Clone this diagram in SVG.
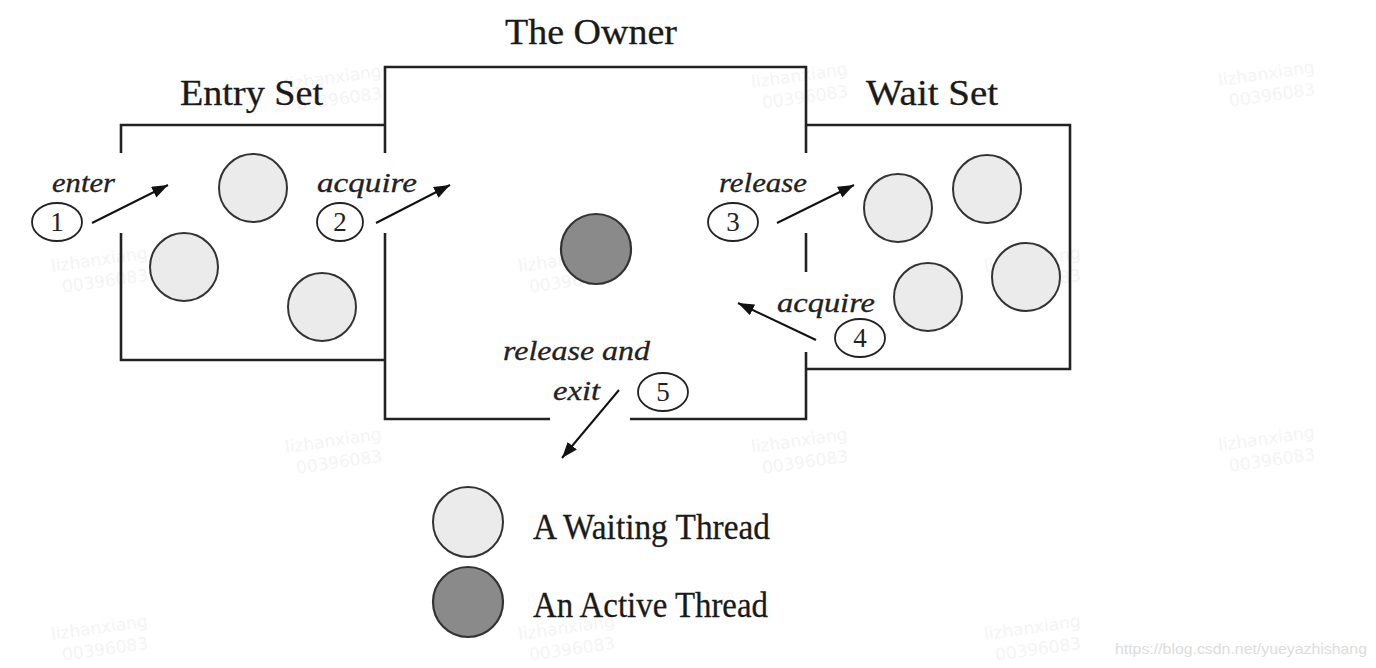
<svg xmlns="http://www.w3.org/2000/svg" width="1376" height="668" viewBox="0 0 1376 668">
<style>
.wall{fill:none;stroke:#222;stroke-width:2.6;stroke-linecap:butt}
.wait{fill:#ebebeb;stroke:#333;stroke-width:2}
.active{fill:#8a8a8a;stroke:#333;stroke-width:2.2}
.num{fill:#fff;stroke:#222;stroke-width:1.8}
.head{font-family:"Liberation Serif","Times New Roman",serif;font-size:35px;fill:#1a1a1a;stroke:#1a1a1a;stroke-width:0.3}
.lab{font-family:"Liberation Serif","Times New Roman",serif;font-style:italic;font-size:27px;fill:#222;stroke:#222;stroke-width:0.3}
.digit{font-family:"Liberation Serif","Times New Roman",serif;font-size:27px;fill:#222;text-anchor:middle}
.leg{font-family:"Liberation Serif","Times New Roman",serif;font-size:36px;fill:#1a1a1a;stroke:#1a1a1a;stroke-width:0.3}
.arrow{stroke:#111;stroke-width:2;fill:none;marker-end:url(#ah)}
.wm{font-family:"DejaVu Sans",sans-serif;font-size:17px;fill:#f4f4f4}
</style>
<defs>
<marker id="ah" markerUnits="userSpaceOnUse" markerWidth="18" markerHeight="14" refX="16" refY="6" orient="auto">
<path d="M0,0 L16,6 L0,12 Z" fill="#111"/>
</marker>
<g id="wmk">
<text class="wm" x="0" y="0">lizhanxiang</text>
<text class="wm" x="8" y="22">00396083</text>
</g>
</defs>
<rect width="1376" height="668" fill="#fff"/>
<g id="watermarks">
<use href="#wmk" transform="translate(286,90) rotate(-8)"/>
<use href="#wmk" transform="translate(752,88) rotate(-8)"/>
<use href="#wmk" transform="translate(1219,86) rotate(-8)"/>
<use href="#wmk" transform="translate(52,272) rotate(-8)"/>
<use href="#wmk" transform="translate(519,272) rotate(-8)"/>
<use href="#wmk" transform="translate(985,272) rotate(-8)"/>
<use href="#wmk" transform="translate(286,453) rotate(-8)"/>
<use href="#wmk" transform="translate(752,453) rotate(-8)"/>
<use href="#wmk" transform="translate(1219,451) rotate(-8)"/>
<use href="#wmk" transform="translate(52,640) rotate(-8)"/>
<use href="#wmk" transform="translate(519,640) rotate(-8)"/>
<use href="#wmk" transform="translate(985,640) rotate(-8)"/>
<text x="1115" y="654" font-family="Liberation Sans, Arial, sans-serif" font-size="15" fill="#dcdcdc" textLength="252" lengthAdjust="spacingAndGlyphs">https://blog.csdn.net/yueyazhishang</text>
</g>
<g id="entry-set">
<path class="wall" d="M385,125 H121 V153 M121,233 V360 H385"/>
<text class="head" x="180" y="105" textLength="143" lengthAdjust="spacingAndGlyphs">Entry Set</text>
<circle class="wait" cx="253" cy="188" r="34"/>
<circle class="wait" cx="184" cy="267" r="34"/>
<circle class="wait" cx="322" cy="307" r="34"/>
</g>
<g id="owner">
<path class="wall" d="M385,153 V67 H806 V153 M385,233 V419 H550 M630,419 H806 V352 M806,233 V272"/>
<text class="head" x="505" y="44" textLength="172" lengthAdjust="spacingAndGlyphs">The Owner</text>
<circle class="active" cx="596" cy="249" r="35"/>
</g>
<g id="wait-set">
<path class="wall" d="M806,125 H1070 V369 H806"/>
<text class="head" x="866" y="105" textLength="132" lengthAdjust="spacingAndGlyphs">Wait Set</text>
<circle class="wait" cx="898" cy="208" r="34"/>
<circle class="wait" cx="987" cy="189" r="34"/>
<circle class="wait" cx="928" cy="297" r="34"/>
<circle class="wait" cx="1026" cy="277" r="34"/>
</g>
<g id="step1">
<text class="lab" x="52" y="192" textLength="63" lengthAdjust="spacingAndGlyphs">enter</text>
<ellipse class="num" cx="57" cy="222" rx="25" ry="19"/>
<text class="digit" x="57" y="231">1</text>
</g>
<g id="step2">
<text class="lab" x="317" y="192" textLength="100" lengthAdjust="spacingAndGlyphs">acquire</text>
<ellipse class="num" cx="340" cy="222" rx="23" ry="19"/>
<text class="digit" x="340" y="231">2</text>
</g>
<g id="step3">
<text class="lab" x="719" y="192" textLength="88" lengthAdjust="spacingAndGlyphs">release</text>
<ellipse class="num" cx="733" cy="222" rx="25" ry="19"/>
<text class="digit" x="733" y="231">3</text>
</g>
<g id="step4">
<text class="lab" x="777" y="312" textLength="98" lengthAdjust="spacingAndGlyphs">acquire</text>
<ellipse class="num" cx="860" cy="338" rx="25" ry="19"/>
<text class="digit" x="860" y="347">4</text>
</g>
<g id="step5">
<text class="lab" x="503" y="360" textLength="147" lengthAdjust="spacingAndGlyphs">release and</text>
<text class="lab" x="553" y="400" textLength="47" lengthAdjust="spacingAndGlyphs">exit</text>
<ellipse class="num" cx="663" cy="392" rx="25" ry="19"/>
<text class="digit" x="663" y="401">5</text>
</g>
<g id="connectors">
<line class="arrow" x1="92" y1="223" x2="168" y2="185"/>
<line class="arrow" x1="376" y1="223" x2="450" y2="185"/>
<line class="arrow" x1="777" y1="223" x2="854" y2="185"/>
<line class="arrow" x1="816" y1="340" x2="738" y2="303"/>
<line class="arrow" x1="619" y1="390" x2="562" y2="458"/>
</g>
<g id="legend">
<circle class="wait" cx="468" cy="522" r="35"/>
<circle class="active" cx="468" cy="602" r="35"/>
<text class="leg" x="533" y="539" textLength="237" lengthAdjust="spacingAndGlyphs">A Waiting Thread</text>
<text class="leg" x="533" y="617" textLength="235" lengthAdjust="spacingAndGlyphs">An Active Thread</text>
</g>
</svg>
